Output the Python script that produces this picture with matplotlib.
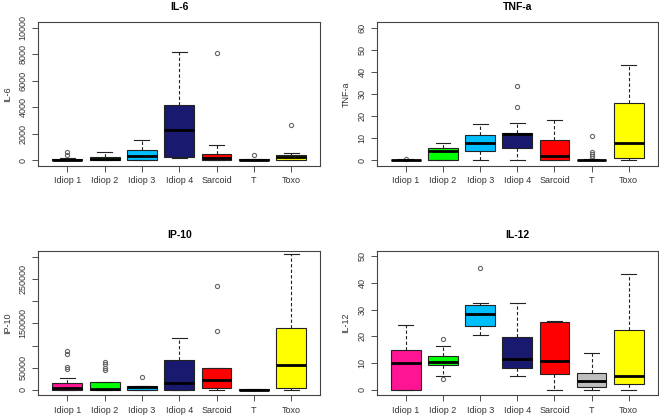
import matplotlib.pyplot as plt

plt.rcParams['font.family'] = ['Liberation Sans', 'DejaVu Sans']

groups = ['Idiop 1', 'Idiop 2', 'Idiop 3', 'Idiop 4', 'Sarcoid', 'T', 'Toxo']
colors = ['#FF1493', '#00FF00', '#00BFFF', '#191970', '#FF0000', '#BEBEBE', '#FFFF00']

# (whisker low, q1, median, q3, whisker high) per group
il6_box = [(0, 0, 50, 100, 150), (0, 0, 100, 280, 600), (0, 0, 330, 800, 1500),
           (200, 280, 2320, 4190, 8150), (0, 0, 170, 500, 1130), (0, 0, 20, 70, 100),
           (0, 0, 250, 400, 550)]
il6_out = [[400, 650], [], [], [], [8080], [380], [2680]]

tnf_box = [(0, 0, 0, 0.4, 0.5), (0, 0, 4.3, 5.5, 8.0), (0, 4.2, 8.0, 11.7, 16.4),
           (0, 5.5, 11.8, 12.6, 17.0), (0, 0, 2.1, 9.2, 18.3), (0, 0, 0, 0.3, 0.5),
           (0, 0.9, 8.0, 25.9, 43.0)]
tnf_out = [[0.8], [], [], [24, 33.6], [], [1.0, 1.8, 2.8, 3.8, 11.1], []]

ip10_box = [(0, 0, 5300, 15000, 25800), (0, 0, 2300, 16700, 16700), (0, 0, 6800, 9000, 9000),
            (0, 800, 15000, 67400, 116000), (0, 5300, 22700, 50000, 50000), (0, 0, 500, 2000, 3000),
            (0, 5300, 57000, 140000, 306000)]
ip10_out = [[46000, 51000, 81000, 87000], [45000, 49000, 59000, 63000], [28000], [],
            [133000, 235000], [], []]

il12_box = [(0, 0, 10.1, 14.9, 24.4), (5.3, 9.4, 10.3, 12.5, 16.4), (20.4, 23.9, 28.5, 31.9, 32.6),
            (5.3, 8.2, 11.5, 19.9, 32.4), (0, 5.9, 10.8, 25.2, 25.7), (0, 1.0, 3.4, 6.4, 13.7),
            (0, 2.1, 5.3, 22.3, 43.3)]
il12_out = [[], [4.2, 19.1], [45.5], [], [], [], []]

panels = [
    ('IL-6', il6_box, il6_out, (-420, 10420), list(range(0, 10001, 2000)), None,
     [0.058, 0.601, 0.428, 0.346]),
    ('TNF-a', tnf_box, tnf_out, (-2.5, 62.5), list(range(0, 61, 10)), None,
     [0.572, 0.601, 0.426, 0.346]),
    ('IP-10', ip10_box, ip10_out, (-12000, 313500), list(range(0, 300001, 50000)),
     ['0', '50000', '', '150000', '', '250000', ''],
     [0.058, 0.050, 0.428, 0.347]),
    ('IL-12', il12_box, il12_out, (-2.0, 52.0), list(range(0, 51, 10)), None,
     [0.572, 0.050, 0.426, 0.347]),
]

fig = plt.figure(figsize=(6.59, 4.16), dpi=100)

for name, box, out, ylim, yticks, ylabels, rect in panels:
    ax = fig.add_axes(rect)
    stats = []
    for (lo, q1, med, q3, hi), fl in zip(box, out):
        stats.append({'whislo': lo, 'q1': q1, 'med': med, 'q3': q3, 'whishi': hi, 'fliers': fl})
    bp = ax.bxp(stats, positions=range(1, 8), widths=0.8, capwidths=0.4,
                patch_artist=True, showfliers=True,
                boxprops=dict(edgecolor='#222222', linewidth=0.8),
                medianprops=dict(color='black', linewidth=2),
                whiskerprops=dict(color='#222222', linestyle=(0, (3, 2)), linewidth=0.8),
                capprops=dict(color='#222222', linewidth=0.8),
                flierprops=dict(marker='o', markersize=3, markerfacecolor='none',
                                markeredgecolor='#666666', markeredgewidth=0.8))
    for patch, c in zip(bp['boxes'], colors):
        patch.set_facecolor(c)
    ax.set_xlim(0.22, 7.78)
    ax.set_ylim(*ylim)
    ax.set_xticks(range(1, 8))
    ax.set_xticklabels(groups)
    ax.set_yticks(yticks)
    if ylabels is None:
        ylabels = [str(t) for t in yticks]
    ax.set_yticklabels(ylabels)
    plt.setp(ax.get_yticklabels(), rotation=90, va='center')
    ax.tick_params(labelsize=6.5, colors='#333333', length=4, width=0.6)
    ax.tick_params(axis='x', pad=3.5)
    for sp in ax.spines.values():
        sp.set_color('#444444')
        sp.set_linewidth(0.8)
    ax.set_title(name, fontsize=7.5, fontweight='bold', pad=9)
    ax.set_ylabel(name, fontsize=6.5, color='#333333', labelpad=5)

plt.savefig('out.png', dpi=100)
